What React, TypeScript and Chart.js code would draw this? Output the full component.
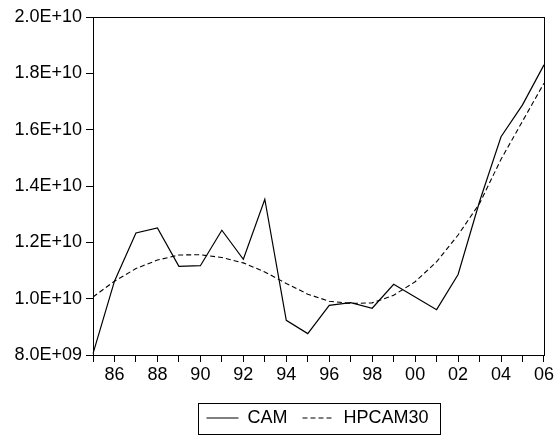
import React, { useEffect, useRef } from "react";
import { Chart, registerables } from "chart.js";

Chart.register(...registerables);

const years = [
  "1985", "1986", "1987", "1988", "1989", "1990", "1991", "1992", "1993", "1994", "1995",
  "1996", "1997", "1998", "1999", "2000", "2001", "2002", "2003", "2004", "2005", "2006",
];

const camValues = [
  8.05e9, 10.62e9, 12.33e9, 12.51e9, 11.15e9, 11.17e9, 12.43e9, 11.4e9, 13.53e9, 9.23e9, 8.76e9,
  9.76e9, 9.86e9, 9.66e9, 10.51e9, 10.06e9, 9.61e9, 10.86e9, 13.45e9, 15.75e9, 16.88e9, 18.3e9,
];

const hpValues = [
  10.06e9, 10.62e9, 11.07e9, 11.37e9, 11.55e9, 11.56e9, 11.46e9, 11.27e9, 10.95e9, 10.54e9, 10.16e9,
  9.91e9, 9.83e9, 9.85e9, 10.12e9, 10.6e9, 11.31e9, 12.26e9, 13.38e9, 14.95e9, 16.3e9, 17.65e9,
];

const seriesNames = ["CAM", "HPCAM30"];

const yMin = 8e9;
const yMax = 2e10;
const yStep = 2e9;

const FONT = "'Liberation Sans', Arial, sans-serif";

function formatSci(v: number): string {
  const [mant, exp] = v.toExponential(1).toUpperCase().split("E");
  const sign = exp.startsWith("-") ? "-" : "+";
  const digits = exp.replace(/[+-]/, "").padStart(2, "0");
  return `${mant}E${sign}${digits}`;
}

const framePlugin = {
  id: "frameAndLegendBox",
  afterLayout(chart: any) {
    const lg = chart.legend;
    if (lg) {
      const dx = 45;
      const dy = 2;
      lg.left += dx;
      lg.right += dx;
      lg.top += dy;
      lg.bottom += dy;
    }
  },
  afterDraw(chart: any) {
    const { ctx, chartArea } = chart;
    ctx.save();
    ctx.strokeStyle = "#000";
    ctx.lineWidth = 1;
    ctx.setLineDash([]);
    ctx.strokeRect(
      Math.round(chartArea.left) + 0.5,
      Math.round(chartArea.top) + 0.5,
      Math.round(chartArea.right - chartArea.left),
      Math.round(chartArea.bottom - chartArea.top)
    );
    const hb = chart.legend?.legendHitBoxes;
    if (hb && hb.length) {
      const first = hb[0];
      const last = hb[hb.length - 1];
      const l = Math.round(first.left - 8) + 0.5;
      const r = Math.round(last.left + last.width + 11) + 0.5;
      const t = Math.round(first.top - 6) + 0.5;
      const b = Math.round(first.top + first.height + 7) + 0.5;
      ctx.strokeRect(l, t, r - l, b - t);
    }
    ctx.restore();
  },
};

export default function App() {
  const canvasRef = useRef<HTMLCanvasElement | null>(null);

  useEffect(() => {
    if (!canvasRef.current) return;
    const chart = new Chart(canvasRef.current, {
      type: "line",
      data: {
        labels: years,
        datasets: [
          {
            label: seriesNames[0],
            data: camValues,
            borderColor: "#000",
            backgroundColor: "#000",
            borderWidth: 1.2,
            pointRadius: 0,
            pointStyle: "line",
            tension: 0,
            fill: false,
          },
          {
            label: seriesNames[1],
            data: hpValues,
            borderColor: "#000",
            backgroundColor: "#000",
            borderWidth: 1.1,
            borderDash: [5, 3],
            pointRadius: 0,
            pointStyle: "line",
            tension: 0,
            fill: false,
          },
        ],
      },
      options: {
        animation: false,
        responsive: false,
        maintainAspectRatio: false,
        devicePixelRatio: 1,
        layout: { padding: { top: 17, right: 11, left: 0, bottom: 0 } },
        plugins: {
          legend: {
            position: "bottom",
            labels: {
              usePointStyle: true,
              pointStyleWidth: 32,
              boxHeight: 18,
              padding: 15,
              color: "#000",
              font: { family: FONT, size: 18 },
              generateLabels: (ch: any) => {
                const items = Chart.defaults.plugins.legend.labels.generateLabels(ch);
                items.forEach((it: any) => {
                  const ds: any = ch.data.datasets[it.datasetIndex];
                  it.lineDash = ds.borderDash || [];
                  it.lineWidth = 1;
                  it.strokeStyle = "#000";
                });
                return items;
              },
            },
          },
          tooltip: { enabled: false },
        },
        scales: {
          x: {
            type: "category",
            offset: false,
            border: { display: false },
            grid: {
              drawOnChartArea: false,
              drawTicks: true,
              tickLength: 7,
              color: "#000",
              lineWidth: 1,
            },
            ticks: {
              autoSkip: false,
              maxRotation: 0,
              minRotation: 0,
              padding: 2,
              color: "#000",
              font: { family: FONT, size: 18 },
              callback: (_v: any, i: number) => (i % 2 === 1 ? years[i].slice(2) : ""),
            },
            afterFit: (scale: any) => {
              scale.height = 37;
            },
          },
          y: {
            min: yMin,
            max: yMax,
            border: { display: false },
            grid: {
              drawOnChartArea: false,
              drawTicks: true,
              tickLength: 7,
              color: "#000",
              lineWidth: 1,
            },
            ticks: {
              stepSize: yStep,
              padding: 4,
              color: "#000",
              font: { family: FONT, size: 18 },
              callback: (v: any) => formatSci(Number(v)),
            },
            afterFit: (scale: any) => {
              scale.width = 93;
            },
          },
        },
      },
      plugins: [framePlugin],
    });
    return () => chart.destroy();
  }, []);

  return (
    <div style={{ position: "fixed", left: 0, top: 0, width: 556, height: 435, background: "#fff" }}>
      <canvas ref={canvasRef} width={556} height={435} />
    </div>
  );
}
